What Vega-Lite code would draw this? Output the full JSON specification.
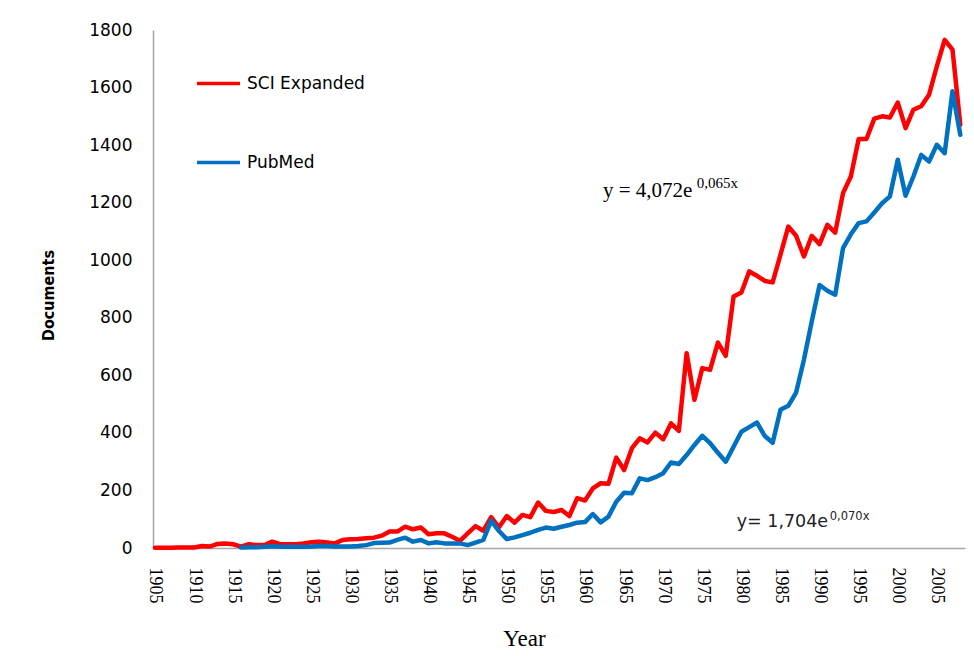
{
  "$schema": "https://vega.github.io/schema/vega-lite/v6.json",
  "width": 812,
  "height": 518,
  "autosize": {"type": "none"},
  "padding": {"left": 153, "top": 30, "right": 9, "bottom": 108},
  "background": "white",
  "config": {"view": {"stroke": null}},
  "layer": [
    {
      "data": {"values": [
        {"year":1905,"SCI Expanded":1,"PubMed":null},
        {"year":1906,"SCI Expanded":1,"PubMed":null},
        {"year":1907,"SCI Expanded":1,"PubMed":null},
        {"year":1908,"SCI Expanded":2,"PubMed":null},
        {"year":1909,"SCI Expanded":2,"PubMed":null},
        {"year":1910,"SCI Expanded":2,"PubMed":null},
        {"year":1911,"SCI Expanded":7,"PubMed":null},
        {"year":1912,"SCI Expanded":5,"PubMed":null},
        {"year":1913,"SCI Expanded":14,"PubMed":null},
        {"year":1914,"SCI Expanded":16,"PubMed":null},
        {"year":1915,"SCI Expanded":13,"PubMed":null},
        {"year":1916,"SCI Expanded":5,"PubMed":2},
        {"year":1917,"SCI Expanded":13,"PubMed":3},
        {"year":1918,"SCI Expanded":10,"PubMed":3},
        {"year":1919,"SCI Expanded":10,"PubMed":4},
        {"year":1920,"SCI Expanded":22,"PubMed":6},
        {"year":1921,"SCI Expanded":13,"PubMed":4},
        {"year":1922,"SCI Expanded":13,"PubMed":4},
        {"year":1923,"SCI Expanded":13,"PubMed":4},
        {"year":1924,"SCI Expanded":16,"PubMed":4},
        {"year":1925,"SCI Expanded":20,"PubMed":5},
        {"year":1926,"SCI Expanded":22,"PubMed":7},
        {"year":1927,"SCI Expanded":19,"PubMed":7},
        {"year":1928,"SCI Expanded":16,"PubMed":5},
        {"year":1929,"SCI Expanded":28,"PubMed":5},
        {"year":1930,"SCI Expanded":30,"PubMed":5},
        {"year":1931,"SCI Expanded":31,"PubMed":7},
        {"year":1932,"SCI Expanded":34,"PubMed":10},
        {"year":1933,"SCI Expanded":36,"PubMed":17},
        {"year":1934,"SCI Expanded":43,"PubMed":18},
        {"year":1935,"SCI Expanded":57,"PubMed":19},
        {"year":1936,"SCI Expanded":57,"PubMed":28},
        {"year":1937,"SCI Expanded":74,"PubMed":36},
        {"year":1938,"SCI Expanded":65,"PubMed":22},
        {"year":1939,"SCI Expanded":71,"PubMed":28},
        {"year":1940,"SCI Expanded":48,"PubMed":16},
        {"year":1941,"SCI Expanded":51,"PubMed":20},
        {"year":1942,"SCI Expanded":51,"PubMed":16},
        {"year":1943,"SCI Expanded":39,"PubMed":16},
        {"year":1944,"SCI Expanded":25,"PubMed":16},
        {"year":1945,"SCI Expanded":51,"PubMed":10},
        {"year":1946,"SCI Expanded":76,"PubMed":19},
        {"year":1947,"SCI Expanded":60,"PubMed":28},
        {"year":1948,"SCI Expanded":107,"PubMed":95},
        {"year":1949,"SCI Expanded":72,"PubMed":59},
        {"year":1950,"SCI Expanded":111,"PubMed":31},
        {"year":1951,"SCI Expanded":88,"PubMed":37},
        {"year":1952,"SCI Expanded":115,"PubMed":45},
        {"year":1953,"SCI Expanded":107,"PubMed":53},
        {"year":1954,"SCI Expanded":158,"PubMed":63},
        {"year":1955,"SCI Expanded":129,"PubMed":71},
        {"year":1956,"SCI Expanded":125,"PubMed":67},
        {"year":1957,"SCI Expanded":132,"PubMed":74},
        {"year":1958,"SCI Expanded":111,"PubMed":80},
        {"year":1959,"SCI Expanded":173,"PubMed":88},
        {"year":1960,"SCI Expanded":165,"PubMed":90},
        {"year":1961,"SCI Expanded":207,"PubMed":118},
        {"year":1962,"SCI Expanded":225,"PubMed":89},
        {"year":1963,"SCI Expanded":223,"PubMed":109},
        {"year":1964,"SCI Expanded":314,"PubMed":161},
        {"year":1965,"SCI Expanded":271,"PubMed":192},
        {"year":1966,"SCI Expanded":347,"PubMed":190},
        {"year":1967,"SCI Expanded":381,"PubMed":242},
        {"year":1968,"SCI Expanded":367,"PubMed":236},
        {"year":1969,"SCI Expanded":401,"PubMed":246},
        {"year":1970,"SCI Expanded":378,"PubMed":260},
        {"year":1971,"SCI Expanded":433,"PubMed":297},
        {"year":1972,"SCI Expanded":407,"PubMed":292},
        {"year":1973,"SCI Expanded":677,"PubMed":323},
        {"year":1974,"SCI Expanded":515,"PubMed":358},
        {"year":1975,"SCI Expanded":625,"PubMed":390},
        {"year":1976,"SCI Expanded":619,"PubMed":364},
        {"year":1977,"SCI Expanded":714,"PubMed":331},
        {"year":1978,"SCI Expanded":668,"PubMed":300},
        {"year":1979,"SCI Expanded":874,"PubMed":352},
        {"year":1980,"SCI Expanded":888,"PubMed":404},
        {"year":1981,"SCI Expanded":961,"PubMed":420},
        {"year":1982,"SCI Expanded":946,"PubMed":436},
        {"year":1983,"SCI Expanded":928,"PubMed":389},
        {"year":1984,"SCI Expanded":923,"PubMed":366},
        {"year":1985,"SCI Expanded":1019,"PubMed":480},
        {"year":1986,"SCI Expanded":1117,"PubMed":494},
        {"year":1987,"SCI Expanded":1085,"PubMed":540},
        {"year":1988,"SCI Expanded":1013,"PubMed":654},
        {"year":1989,"SCI Expanded":1085,"PubMed":787},
        {"year":1990,"SCI Expanded":1056,"PubMed":914},
        {"year":1991,"SCI Expanded":1123,"PubMed":894},
        {"year":1992,"SCI Expanded":1096,"PubMed":880},
        {"year":1993,"SCI Expanded":1233,"PubMed":1042},
        {"year":1994,"SCI Expanded":1291,"PubMed":1090},
        {"year":1995,"SCI Expanded":1421,"PubMed":1129},
        {"year":1996,"SCI Expanded":1421,"PubMed":1135},
        {"year":1997,"SCI Expanded":1492,"PubMed":1166},
        {"year":1998,"SCI Expanded":1500,"PubMed":1198},
        {"year":1999,"SCI Expanded":1496,"PubMed":1222},
        {"year":2000,"SCI Expanded":1548,"PubMed":1349},
        {"year":2001,"SCI Expanded":1459,"PubMed":1224},
        {"year":2002,"SCI Expanded":1523,"PubMed":1291},
        {"year":2003,"SCI Expanded":1535,"PubMed":1366},
        {"year":2004,"SCI Expanded":1575,"PubMed":1343},
        {"year":2005,"SCI Expanded":1674,"PubMed":1401},
        {"year":2006,"SCI Expanded":1766,"PubMed":1372},
        {"year":2007,"SCI Expanded":1732,"PubMed":1587},
        {"year":2008,"SCI Expanded":1471,"PubMed":1436}
      ]},
      "transform": [{"fold": ["SCI Expanded", "PubMed"], "as": ["series", "value"]}],
      "mark": {"type": "line", "strokeWidth": 4.5, "strokeJoin": "round", "strokeCap": "round"},
      "encoding": {
        "x": {
          "field": "year", "type": "quantitative",
          "scale": {"domain": [1904.75, 2008.6], "nice": false, "zero": false},
          "axis": {
            "values": [1905,1910,1915,1920,1925,1930,1935,1940,1945,1950,1955,1960,1965,1970,1975,1980,1985,1990,1995,2000,2005],
            "format": "d", "labelAngle": 90, "labelAlign": "left", "labelBaseline": "middle",
            "labelFont": "Liberation Serif", "labelFontSize": 18, "labelColor": "#000000",
            "labelPadding": 19, "labelFlush": false, "labelOverlap": false,
            "ticks": false, "grid": false, "domainColor": "#A6A6A6", "domainWidth": 1.5,
            "title": "Year", "titleFont": "Liberation Serif", "titleFontSize": 23, "titleFontWeight": "normal",
            "titleColor": "#000000", "titleX": 371, "titleY": 97, "titleAlign": "center", "titleBaseline": "alphabetic"
          }
        },
        "y": {
          "field": "value", "type": "quantitative",
          "scale": {"domain": [0, 1800], "nice": false},
          "axis": {
            "values": [0,200,400,600,800,1000,1200,1400,1600,1800],
            "format": "d",
            "labelFont": "DejaVu Sans", "labelFontSize": 17, "labelColor": "#000000",
            "labelPadding": 21, "labelFlush": false,
            "ticks": false, "grid": false, "domainColor": "#A6A6A6", "domainWidth": 1.5,
            "title": "Documents", "titleFont": "Liberation Sans Narrow, DejaVu Sans Condensed, Liberation Sans", "titleFontSize": 16, "titleFontWeight": "bold",
            "titleColor": "#000000", "titleX": -105, "titleY": 265, "titleAngle": -90, "titleAlign": "center", "titleBaseline": "middle"
          }
        },
        "color": {
          "field": "series", "type": "nominal",
          "scale": {"domain": ["SCI Expanded", "PubMed"], "range": ["#FF0000", "#0070C0"]},
          "legend": {
            "orient": "none", "legendX": 42, "legendY": 30, "title": null, "padding": 0,
            "symbolType": "stroke", "symbolSize": 1849, "symbolStrokeWidth": 3.5,
            "labelFont": "DejaVu Sans", "labelFontSize": 17, "labelColor": "#000000",
            "labelOffset": 5, "rowPadding": 47
          }
        }
      }
    },
    {
      "data": {"values": [{}]},
      "mark": {"type": "text", "text": "y = 4,072e", "font": "Liberation Serif", "fontSize": 21, "align": "left", "baseline": "alphabetic", "color": "#000000"},
      "encoding": {"x": {"datum": 1962.3, "type": "quantitative"}, "y": {"datum": 1221, "type": "quantitative"}}
    },
    {
      "data": {"values": [{}]},
      "mark": {"type": "text", "text": "0,065x", "font": "Liberation Serif", "fontSize": 15, "align": "left", "baseline": "alphabetic", "color": "#000000"},
      "encoding": {"x": {"datum": 1974.3, "type": "quantitative"}, "y": {"datum": 1252, "type": "quantitative"}}
    },
    {
      "data": {"values": [{}]},
      "mark": {"type": "text", "text": "y= 1,704e", "font": "DejaVu Sans", "fontSize": 17.5, "align": "left", "baseline": "alphabetic", "color": "#222222"},
      "encoding": {"x": {"datum": 1979.4, "type": "quantitative"}, "y": {"datum": 73, "type": "quantitative"}}
    },
    {
      "data": {"values": [{}]},
      "mark": {"type": "text", "text": "0,070x", "font": "DejaVu Sans", "fontSize": 11.5, "align": "left", "baseline": "alphabetic", "color": "#222222"},
      "encoding": {"x": {"datum": 1991.3, "type": "quantitative"}, "y": {"datum": 97, "type": "quantitative"}}
    }
  ]
}
